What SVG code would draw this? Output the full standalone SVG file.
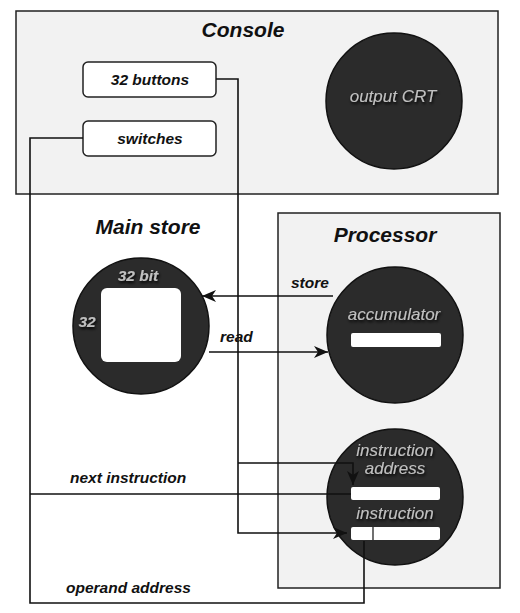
<svg xmlns="http://www.w3.org/2000/svg" width="520" height="613" viewBox="0 0 520 613">
<style>
.box{fill:#f2f2f2;stroke:#222;stroke-width:1.5}
.btn{fill:#fff;stroke:#222;stroke-width:1.5}
.circ{fill:#2b2b2b;stroke:#111;stroke-width:1.5}
.reg{fill:#fff}
.title{font-family:"Liberation Sans",Arial,sans-serif;font-weight:bold;font-style:italic;font-size:21px;fill:#111;text-anchor:middle}
.lbl{font-family:"Liberation Sans",Arial,sans-serif;font-weight:bold;font-style:italic;font-size:15.5px;fill:#111}
.in{font-family:"Liberation Sans",Arial,sans-serif;font-style:italic;font-size:17px;fill:#c0c0c0;text-anchor:middle;filter:url(#sh)}
.inb{font-family:"Liberation Sans",Arial,sans-serif;font-weight:bold;font-style:italic;font-size:15.5px;fill:#c0c0c0;text-anchor:middle;filter:url(#sh)}
.con{fill:none;stroke:#111;stroke-width:1.6}
</style>
<defs>
<filter id="sh" x="-20%" y="-40%" width="140%" height="180%">
<feGaussianBlur in="SourceAlpha" stdDeviation="1.5"/>
<feOffset dx="1" dy="2" result="b"/>
<feMerge><feMergeNode in="b"/><feMergeNode in="SourceGraphic"/></feMerge>
</filter>
<marker id="arr" markerUnits="userSpaceOnUse" markerWidth="16" markerHeight="14" refX="14" refY="6" orient="auto">
<path d="M0,0 L14,6 L0,12 L4,6 Z" fill="#111"/>
</marker>
</defs>

<g id="console">
<rect class="box" x="16" y="11" width="482" height="183"/>
<text class="title" x="243" y="37">Console</text>
</g>
<g id="buttons">
<rect class="btn" x="83" y="62" width="133" height="35" rx="5"/>
<text class="lbl" x="150" y="85" text-anchor="middle">32 buttons</text>
</g>
<g id="switches">
<rect class="btn" x="83" y="121" width="133" height="35" rx="5"/>
<text class="lbl" x="150" y="144" text-anchor="middle">switches</text>
</g>
<g id="crt">
<circle class="circ" cx="394" cy="101" r="68"/>
<text class="in" x="393" y="102">output CRT</text>
</g>

<g id="mainstore">
<text class="title" x="148" y="234">Main store</text>
<circle class="circ" cx="141" cy="326" r="68"/>
<rect class="reg" x="101" y="288" width="80" height="74" rx="6"/>
<text class="inb" x="138" y="281">32 bit</text>
<text class="inb" x="87" y="327">32</text>
</g>

<g id="processor">
<rect class="box" x="278" y="213" width="222" height="375"/>
<text class="title" x="385" y="242">Processor</text>
</g>
<g id="accumulator">
<circle class="circ" cx="395" cy="335" r="68"/>
<text class="in" x="394" y="320">accumulator</text>
<rect class="reg" x="351" y="333" width="90" height="14" rx="2"/>
</g>
<g id="control">
<circle class="circ" cx="395" cy="497" r="68"/>
<text class="in" x="395" y="456">instruction</text>
<text class="in" x="395" y="474">address</text>
<rect class="reg" x="351" y="487" width="89" height="13" rx="2"/>
<text class="in" x="395" y="519">instruction</text>
<rect class="reg" x="351" y="527" width="89" height="13" rx="2"/>
<line x1="373" y1="527" x2="373" y2="540" stroke="#111" stroke-width="1.2"/>
</g>

<g id="connectors">
<path class="con" d="M216,79 H238 V533 H347" marker-end="url(#arr)"/>
<path class="con" d="M238,463 H353 V485" marker-end="url(#arr)"/>
<path class="con" d="M209,352 H328" marker-end="url(#arr)"/>
<path class="con" d="M333,296 H202" marker-end="url(#arr)"/>
<path class="con" d="M83,138 H30 V603 H364 V541"/>
<path class="con" d="M30,494 H351"/>
<text class="lbl" x="291" y="288">store</text>
<text class="lbl" x="220" y="342">read</text>
<text class="lbl" x="70" y="483">next instruction</text>
<text class="lbl" x="66" y="593">operand address</text>
</g>
</svg>
